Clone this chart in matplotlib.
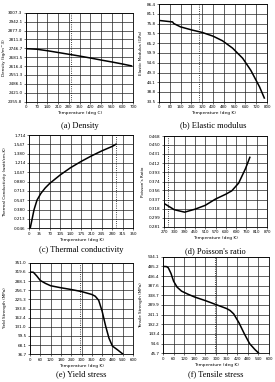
import numpy as np
import matplotlib.pyplot as plt

# (a) density
t_a = [0, 70, 140, 210, 280, 350, 420, 490, 560, 630, 690]
rho = [2744, 2740, 2729, 2716, 2703, 2690, 2676, 2661, 2647, 2632, 2618]
yt_a = ['2355.8', '2421.0', '2486.1', '2551.3', '2616.4', '2681.5',
        '2746.7', '2811.8', '2877.0', '2942.1', '3007.3']

# (b) elastic modulus
t_b = [0, 100, 110, 160, 245, 320, 400, 470, 545, 620, 680, 745, 780]
E = [77.5, 76.7, 75.8, 74.0, 72.3, 71.0, 69.0, 66.5, 62.5, 57.0, 50.5, 41.5, 35.5]
yt_b = ['33.5', '38.8', '44.1', '49.3', '54.6', '59.9', '65.2', '70.5', '75.8', '81.1', '86.4']

# (c) thermal conductivity
t_c = [4, 10, 17, 27, 40, 55, 70, 105, 140, 175, 210, 245, 280, 293]
k = [0.046, 0.2, 0.38, 0.55, 0.67, 0.77, 0.85, 1.0, 1.13, 1.24, 1.34, 1.43, 1.51, 1.55]
yt_c = ['0.046', '0.213', '0.380', '0.547', '0.713', '0.880', '1.047', '1.214',
        '1.380', '1.547', '1.714']

# (d) poisson's ratio
t_d = [270, 330, 390, 450, 510, 570, 630, 665, 705, 745, 770]
nu = [0.329, 0.316, 0.311, 0.317, 0.325, 0.338, 0.348, 0.355, 0.371, 0.401, 0.424]
yt_d = ['0.281', '0.299', '0.318', '0.337', '0.356', '0.374', '0.393', '0.412',
        '0.431', '0.450', '0.468']

# (e) yield stress
t_e = [0, 20, 40, 60, 90, 120, 180, 240, 300, 360, 380, 400, 420, 440, 460, 480, 510, 540]
sy = [319, 318, 305, 290, 280, 272, 265, 259, 252, 242, 236, 222, 185, 135, 92, 65, 52, 38]
yt_e = ['36.7', '68.1', '99.5', '131.0', '162.4', '193.8', '225.3', '256.7',
        '288.1', '319.6', '351.0']

# (f) tensile stress
t_f = [0, 20, 30, 45, 60, 80, 105, 140, 180, 240, 300, 360, 380, 400, 430, 460, 490, 520, 540]
su = [485, 484, 478, 450, 410, 380, 360, 345, 330, 312, 292, 272, 262, 245, 200, 145, 95, 65, 48]
yt_f = ['45.7', '94.6', '143.4', '192.2', '241.1', '289.9', '338.7', '387.6',
        '436.4', '485.2', '534.1']

room_t = 293

W, H = 275, 382
fig = plt.figure(figsize=(W / 100, H / 100), dpi=100)


def panel(box, x, y, xmax, xmin, yt, ylabel, xlabel, caption, cap_y, lab_x):
    l, r, t, b = box
    ax = fig.add_axes([l / W, 1 - b / H, (r - l) / W, (b - t) / H])
    yv = [float(s) for s in yt]
    xt = np.linspace(xmin, xmax, 11)
    ax.set_xlim(xmin, xmax)
    ax.set_ylim(yv[0], yv[-1])
    ax.set_xticks(xt)
    ax.set_xticklabels([str(int(v)) for v in xt], fontsize=2.9)
    ax.set_yticks(yv)
    ax.set_yticklabels(yt, fontsize=3.0)
    ax.tick_params(length=1.5, width=0.4, pad=1)
    ax.grid(True, color='#222222', lw=0.5)
    for s in ax.spines.values():
        s.set_linewidth(0.6)
    ax.axvline(room_t, color='black', ls=':', lw=0.6)
    ax.plot(x, y, color='black', lw=1.1)
    ax.set_xlabel(xlabel, fontsize=3.2, labelpad=1.5)
    fig.text(lab_x / W, 1 - (t + b) / 2 / H, ylabel, rotation=90,
             ha='center', va='center', fontsize=3.0)
    fig.text((l + r) / 2 / W, 1 - cap_y / H, caption, ha='center', va='center',
             fontsize=6, family='Liberation Serif')
    return ax


panel((26, 133, 12.7, 101.7), t_a, rho, 700, 0, yt_a, 'Density (kg/m^3)',
      'Temperature (deg C)', '(a) Density', 125.5, 4.5)
panel((159, 267, 4, 101.7), t_b, E, 800, 0, yt_b, 'Elastic Modulus (GPa)',
      'Temperature (deg K)', '(b) Elastic modulus', 125, 141)
panel((29, 133, 135, 228.3), t_c, k, 350, 0, yt_c, 'Thermal Conductivity (watt/cm-K)',
      'Temperature (deg K)', '(c) Thermal conductivity', 250, 5)
panel((164, 267, 136, 226.7), t_d, nu, 870, 270, yt_d, "Poisson's Ratio",
      'Temperature (deg K)', "(d) Poisson's ratio", 251, 143)
panel((30, 133, 262.7, 354.3), t_e, sy, 600, 0, yt_e, 'Yield Strength (MPa)',
      'Temperature (deg K)', '(e) Yield stress', 374, 5)
panel((163, 269, 256.7, 353.3), t_f, su, 600, 0, yt_f, 'Tensile Strength (MPa)',
      'Temperature (deg K)', '(f) Tensile stress', 374, 141)

fig.savefig('out.png', dpi=100)
